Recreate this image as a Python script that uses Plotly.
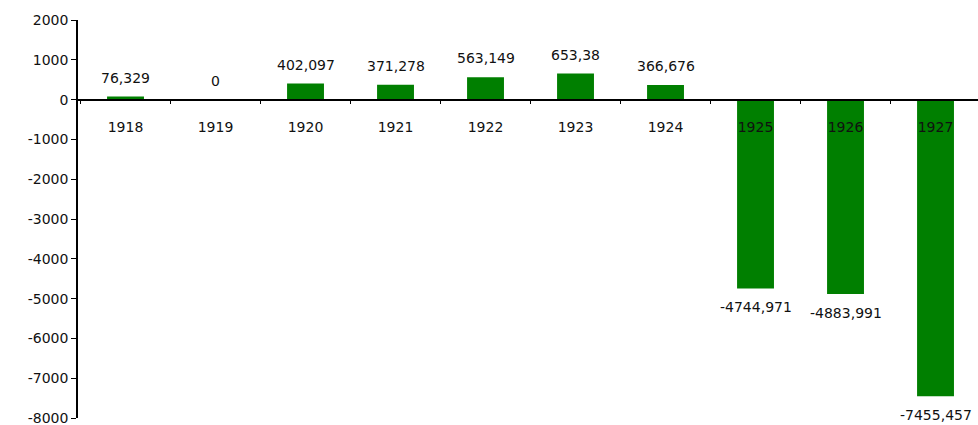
import plotly.graph_objects as go

years = ["1918", "1919", "1920", "1921", "1922", "1923", "1924", "1925", "1926", "1927"]
values = [76.329, 0, 402.097, 371.278, 563.149, 653.38, 366.676, -4744.971, -4883.991, -7455.457]
labels = ["76,329", "0", "402,097", "371,278", "563,149", "653,38", "366,676", "-4744,971", "-4883,991", "-7455,457"]
y_ticks = [2000, 1000, 0, -1000, -2000, -3000, -4000, -5000, -6000, -7000, -8000]

FONT = "DejaVu Sans"
FS = 14
fig = go.Figure()
fig.add_trace(go.Bar(x=years, y=values, marker_color="#007F00", width=0.41,
                     marker_line_width=0))

for i, (v, t) in enumerate(zip(values, labels)):
    fig.add_annotation(x=i, y=v, xref="x", yref="y", text=t, showarrow=False,
                       yshift=19 if v >= 0 else -19, yanchor="middle",
                       font=dict(family=FONT, size=FS, color="#111111"))

fig.update_layout(
    width=978, height=425,
    margin=dict(l=78, r=0, t=20, b=7, autoexpand=False),
    paper_bgcolor="white", plot_bgcolor="white",
    showlegend=False,
    font=dict(family=FONT, size=FS, color="#111111"),
    xaxis=dict(type="category", range=[-0.528, 9.472], anchor="free", position=0.8,
               showline=True, linecolor="black", linewidth=1.5,
               ticks="outside", tickson="boundaries", ticklen=4, tickcolor="black",
               ticklabelstandoff=15, showgrid=False, zeroline=False, automargin=False,
               tickfont=dict(family=FONT, size=FS, color="#111111")),
    yaxis=dict(range=[-8000, 2000], tickvals=y_ticks,
               ticktext=[str(v) for v in y_ticks],
               showline=True, linecolor="black", linewidth=1.5,
               ticks="outside", ticklen=5, tickcolor="black",
               ticklabeloverflow="allow", automargin=False,
               showgrid=False, zeroline=False,
               tickfont=dict(family=FONT, size=FS, color="#111111")),
)

fig.write_html("out.html")
